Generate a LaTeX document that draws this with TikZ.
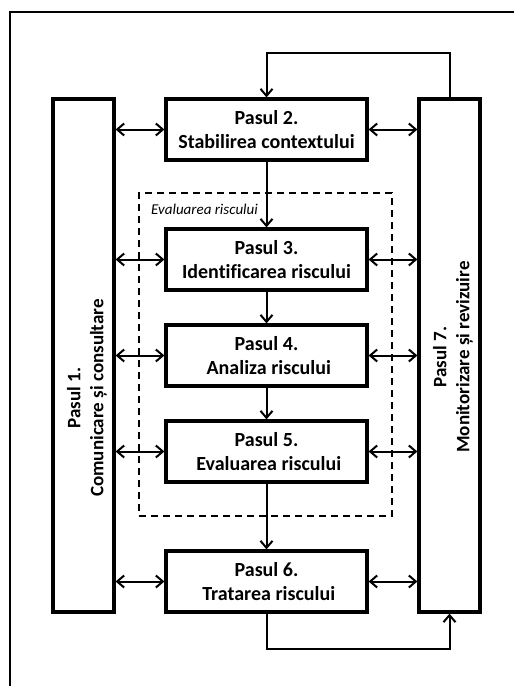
\documentclass[tikz,border=0pt]{standalone}
\usepackage{fontspec}
\setmainfont{Carlito}[Ligatures={NoCommon}]
\usetikzlibrary{arrows.meta}
\begin{document}
\begin{tikzpicture}[x=1pt,y=-1pt,
  stepbox/.style={draw,line width=3.2pt,fill=white,inner sep=0pt,align=center,
    font=\bfseries\fontsize{20}{24}\selectfont,minimum width=201pt,minimum height=61pt},
  sidebox/.style={draw,line width=3.2pt,inner sep=0pt,minimum width=61pt,minimum height=513pt},
  sidetext/.style={rotate=90,align=center,inner sep=0pt,font=\bfseries\fontsize{19}{23}\selectfont},
  tip/.tip={Straight Barb[length=7pt,width=12pt,line width=2pt]},
  conn/.style={line width=2pt,-tip},
  biconn/.style={line width=2pt,tip-tip}]
\useasboundingbox (0,0) rectangle (514,686);
\clip (0,0) rectangle (514,686);
\fill[white] (0,0) rectangle (514,686);
% outer frame (cut off at right and bottom)
\draw[line width=2.7pt] (10,12) rectangle (540,720);
% dashed group
\node[draw,line width=2pt,dash pattern=on 7pt off 5pt,minimum width=253pt,minimum height=323pt,inner sep=0pt] (grp) at (265.5,354.5) {};
\node[anchor=west,inner sep=0pt,font=\itshape\fontsize{15}{18}\selectfont] (grplabel) at (151,209) {Evaluarea riscului};
% side boxes
\node[sidebox] (p1) at (83.5,355.5) {};
\node[sidebox] (p7) at (449.5,355.5) {};
\node[sidetext] (p1t) at (87,398) {Pasul 1.\\Comunicare și consultare};
\node[sidetext] (p7t) at (453,357) {Pasul 7.\\Monitorizare și revizuire};
% steps
\node[stepbox] (p2) at (266.5,129.5) {Pasul 2.\\Stabilirea contextului};
\node[stepbox] (p3) at (266.5,259.5) {Pasul 3.\\ Identificarea riscului};
\node[stepbox] (p4) at (266.5,355.5) {Pasul 4.\\ \ Analiza riscului};
\node[stepbox] (p5) at (266.5,451.5) {Pasul 5.\\ \ Evaluarea riscului};
\node[stepbox] (p6) at (266.5,581.5) {Pasul 6.\\ \ Tratarea riscului};
% vertical flow
\draw[conn] (p2.south) -- (p3.north);
\draw[conn] (p3.south) -- (p4.north);
\draw[conn] (p4.south) -- (p5.north);
\draw[conn] (p5.south) -- (p6.north);
% loops
\draw[conn] (p7.north) -- ++(0,-44) -| (p2.north);
\draw[conn] (p6.south) -- ++(0,35) -| (p7.south);
% bidirectional links
\foreach \s in {p2,p3,p4,p5,p6}{
  \draw[biconn] (p1.east |- \s.west) -- (\s.west);
  \draw[biconn] (\s.east) -- (p7.west |- \s.east);
}
\end{tikzpicture}
\end{document}
